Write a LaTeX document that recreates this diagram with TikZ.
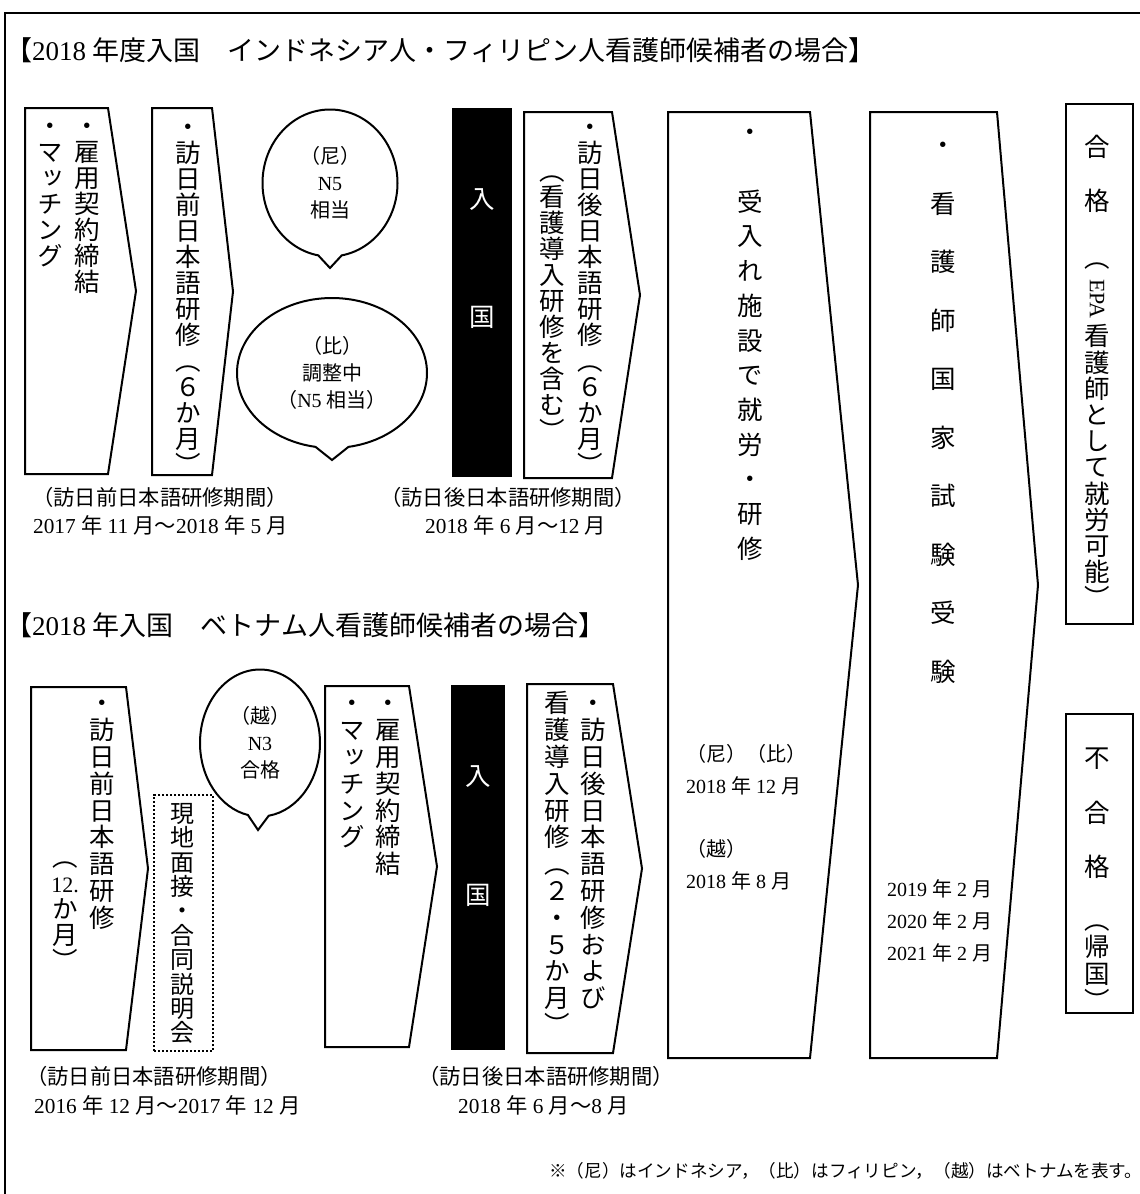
\documentclass[tikz,border=0pt]{standalone}
\usepackage{fontspec}
\setmainfont{Liberation Serif}
\newfontfamily\jph{Noto Sans CJK JP}
\newfontfamily\jpv{Noto Sans CJK JP}[RawFeature=+vert]
\usetikzlibrary{shapes.callouts}
\newXeTeXintercharclass\cjkcls
\makeatletter
\count@="3000
\loop
  \XeTeXcharclass\count@=\cjkcls
  \advance\count@\@ne
\ifnum\count@<"A000 \repeat
\count@="FF00
\loop
  \XeTeXcharclass\count@=\cjkcls
  \advance\count@\@ne
\ifnum\count@<"FFF0 \repeat
\XeTeXcharclass"203B=\cjkcls
\makeatother
\let\jpcur\jph
\XeTeXinterchartoks 0 \cjkcls = {\jpcur}
\XeTeXinterchartoks 4095 \cjkcls = {\jpcur}
\XeTeXinterchartoks \cjkcls 0 = {\rmfamily}
\XeTeXinterchartoks \cjkcls 4095 = {\rmfamily}
\newdimen\vpitch
\newcommand\vcell[1]{\hbox to 1em{\hss\vbox to \vpitch{\vss\hbox{\vrule width 0pt height 0.88em depth 0.12em\relax #1}\vss}\hss}}
\ExplSyntaxOn
\NewDocumentCommand\vt{mm}{\vbox{\offinterlineskip \dim_set:Nn \vpitch {#1} \let\jpcur\jpv \tl_map_inline:nn {#2} {\vcell{##1}}}}
\ExplSyntaxOff
\newcommand\pent[5]{\draw[shp] (#1,#2) -- (#3,#2) -- ({#3+#4},{(#2+#5)/2}) -- (#3,#5) -- (#1,#5) -- cycle;}
\tikzset{
  shp/.style={draw, line width=2pt, line join=miter},
  frm/.style={line width=2.8pt},
  vcol/.style={inner sep=0pt, anchor=north, font=\fontsize{25.5pt}{25.5pt}\selectfont},
  lbl/.style={inner sep=0pt, anchor=west, text height=0.88em, text depth=0.12em},
  ttl/.style={lbl, font=\fontsize{27pt}{27pt}\selectfont},
  captxt/.style={lbl, font=\fontsize{21.3pt}{21.3pt}\selectfont},
  sml/.style={lbl, font=\fontsize{20pt}{20pt}\selectfont},
  blackbar/.style={fill=black, draw=none, inner sep=0pt},
  bartxt/.style={inner sep=0pt, text=white, font=\fontsize{25.5pt}{25.5pt}\selectfont},
  rbox/.style={draw, line width=2pt, inner sep=0pt},
  dotbx/.style={draw, line width=2.6pt, dash pattern=on 2.4pt off 1.6pt, inner sep=0pt},
  bbl/.style={ellipse callout, draw, line width=2pt, inner sep=0pt, callout pointer arc=20, align=center, font=\fontsize{20pt}{27pt}\selectfont},
}
\begin{document}
\XeTeXinterchartokenstate=1
\begin{tikzpicture}[x=1pt,y=-1pt]
\useasboundingbox (0,0) rectangle (1140,1194);
\fill[white] (0,0) rectangle (1140,1194);
\coordinate (fbl) at (5,1210);
\coordinate (ftl) at (5,13);
\coordinate (ftr) at (1150,13);
\draw[frm] (fbl) -- (ftl) -- (ftr);

% titles
\node[ttl] (t1) at (5,57) {【2018 年度入国　インドネシア人・フィリピン人看護師候補者の場合】};
\node[ttl] (t2) at (5,632) {【2018 年入国　ベトナム人看護師候補者の場合】};

% ---------- top row ----------
\pent{25}{108}{108}{28}{474}
\node[vcol] (p1r) at (87,113) {\vt{26pt}{・雇用契約締結}};
\node[vcol] (p1l) at (50,113) {\vt{26pt}{・マッチング}};

\pent{152}{108}{212}{21}{475}
\node[vcol] (p2) at (188,114) {\vt{26pt}{・訪日前日本語研修（６か月）}};

\node[bbl, minimum width=135pt, minimum height=147pt, callout absolute pointer={(330,268)}] (b1) at (330,183) {（尼）\\N5\\相当};
\node[bbl, minimum width=190pt, minimum height=150pt, callout absolute pointer={(332,460)}] (b2) at (332,373) {（比）\\調整中\\（N5 相当）};

\node[blackbar, minimum width=60pt, minimum height=369pt] (bar1) at (482,292.5) {};
\node[bartxt] (bar1a) at (482,200) {入};
\node[bartxt] (bar1b) at (482,317) {国};

\pent{524}{112}{612}{28}{478}
\node[vcol] (p3r) at (590,114) {\vt{26pt}{・訪日後日本語研修（６か月）}};
\node[vcol] (p3l) at (552,158) {\vt{26pt}{（看護導入研修を含む）}};

\pent{668}{112}{810}{48}{1058}
\node[vcol] (p4) at (750,114.6) {\vt{34.7pt}{・{}受入れ施設で就労・研修}};
\node[sml] (p4a) at (686,758) {（尼）（比）};
\node[sml] (p4b) at (686,790) {2018 年 12 月};
\node[sml] (p4c) at (686,853) {（越）};
\node[sml] (p4d) at (686,885) {2018 年 8 月};

\pent{870}{112}{997}{41}{1058}
\node[vcol] (p5) at (943,115.7) {\vt{58.5pt}{・看護師国家試験受験}};
\node[sml] (p5a) at (887,893) {2019 年 2 月};
\node[sml] (p5b) at (887,925) {2020 年 2 月};
\node[sml] (p5c) at (887,957) {2021 年 2 月};

\node[rbox, minimum width=67pt, minimum height=520pt] (pass) at (1099.5,364) {};
\node[vcol] (pass1) at (1097,133.5) {\vt{27pt}{合{}格}};
\node[vcol] (pass2) at (1097,245) {\vt{26pt}{（}};
\node[inner sep=0pt, rotate=-90, font=\fontsize{22pt}{22pt}\selectfont] (pass3) at (1097,299) {EPA};
\node[vcol] (pass4) at (1097,322.9) {\vt{26.2pt}{看護師として就労可能）}};

\node[rbox, minimum width=67pt, minimum height=299pt] (fail) at (1099.5,863.5) {};
\node[vcol] (fail1) at (1097,730.75) {\vt{54.5pt}{不合格}};
\node[vcol] (fail2) at (1097,906.5) {\vt{27pt}{（帰国）}};

\node[captxt] (c1a) at (32,502) {（訪日前日本語研修期間）};
\node[captxt] (c1b) at (33,530) {2017 年 11 月～2018 年 5 月};
\node[captxt] (c2a) at (380,502) {（訪日後日本語研修期間）};
\node[captxt] (c2b) at (425,530) {2018 年 6 月～12 月};

% ---------- bottom row ----------
\pent{31}{687}{126}{22}{1050}
\node[vcol] (q1r) at (102,689.6) {\vt{26.8pt}{・訪日前日本語研修}};
\node[vcol] (q1l) at (65,844) {\vt{26pt}{（{\fontsize{22pt}{22pt}\selectfont 12.}か月）}};

\node[dotbx, minimum width=59pt, minimum height=256pt] (dot) at (183.5,923) {};
\node[vcol, font=\fontsize{24pt}{24pt}\selectfont] (dott) at (182,800.8) {\vt{24.4pt}{現地面接・合同説明会}};

\node[bbl, minimum width=120pt, minimum height=147pt, callout absolute pointer={(258,830)}] (b3) at (260,743) {（越）\\N3\\合格};

\pent{325}{686}{409}{28}{1047}
\node[vcol] (q4r) at (388,689.6) {\vt{26.8pt}{・雇用契約締結}};
\node[vcol] (q4l) at (352,689.6) {\vt{26.8pt}{・マッチング}};

\node[blackbar, minimum width=54pt, minimum height=365pt] (bar2) at (478,867.5) {};
\node[bartxt] (bar2a) at (478,777) {入};
\node[bartxt] (bar2b) at (478,895) {国};

\pent{527}{684}{613}{29}{1053}
\node[vcol] (q6r) at (593,689.6) {\vt{26.8pt}{・訪日後日本語研修および}};
\node[vcol] (q6l) at (557,689.6) {\vt{26.8pt}{看護導入研修（２・５か月）}};

\node[captxt] (c3a) at (26,1081) {（訪日前日本語研修期間）};
\node[captxt] (c3b) at (34,1110) {2016 年 12 月～2017 年 12 月};
\node[captxt] (c4a) at (418,1081) {（訪日後日本語研修期間）};
\node[captxt] (c4b) at (458,1110) {2018 年 6 月～8 月};

\node[lbl, font=\fontsize{17.6pt}{17.6pt}\selectfont] (note) at (549,1174) {※（尼）はインドネシア，（比）はフィリピン，（越）はベトナムを表す。};
\end{tikzpicture}
\end{document}
